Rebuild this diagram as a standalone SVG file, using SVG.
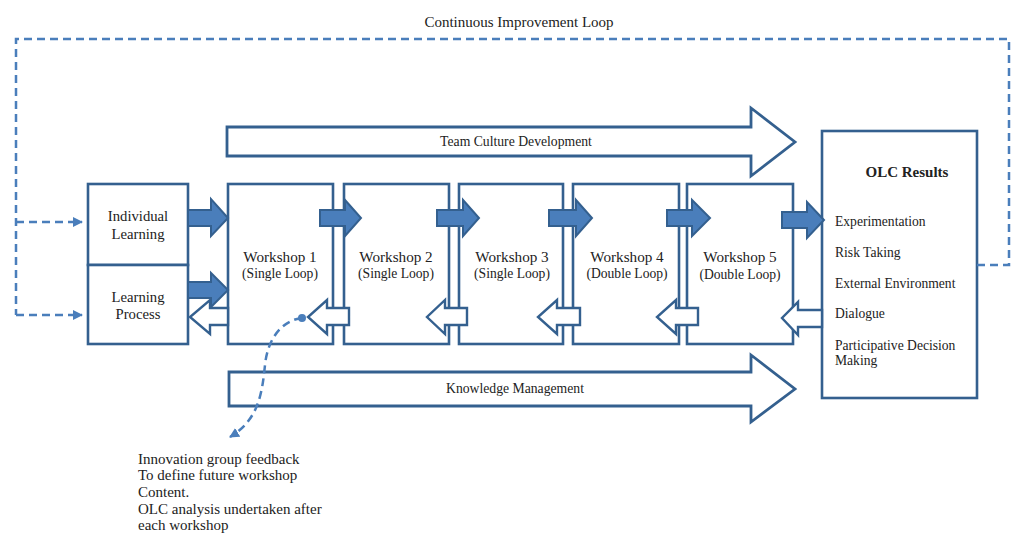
<svg xmlns="http://www.w3.org/2000/svg" width="1012" height="533" viewBox="0 0 1012 533" font-family="'Liberation Serif', 'DejaVu Serif', serif">
<style>
.box{fill:#fff;stroke:#34608f;stroke-width:2.6}
.fa{fill:#4a7ebb;stroke:#34608f;stroke-width:2}
.ha{fill:#fff;stroke:#34608f;stroke-width:2.4}
.big{fill:#fff;stroke:#34608f;stroke-width:2.8}
.dash{fill:none;stroke:#4a7ebb;stroke-width:2.5;stroke-dasharray:8 5}
text{font-family:'Liberation Serif','DejaVu Serif',serif;fill:#222}
.t{font-size:14.7px;text-anchor:middle}
.w{font-size:15.2px;text-anchor:middle}
.s{font-size:13.6px;text-anchor:middle}
.i{font-size:13.6px}
.b{font-size:13.7px;text-anchor:middle}
</style>
<defs>
<marker id="ah" viewBox="0 0 10 10" refX="9" refY="5" markerWidth="4" markerHeight="4" orient="auto">
<path d="M0,0 L10,5 L0,10 z" fill="#4a7ebb"/>
</marker>
</defs>

<text x="519" y="27" style="font-size:15px;text-anchor:middle">Continuous Improvement Loop</text>

<g id="team-culture">
<polygon class="big" points="227,127 751,127 751,108 795,142 751,176 751,156 227,156"/>
<text class="b" x="516" y="146">Team Culture Development</text>
</g>
<g id="knowledge-management">
<polygon class="big" points="229,372 751,372 751,355 795,389 751,422 751,406 229,406"/>
<text class="b" x="515" y="393">Knowledge Management</text>
</g>

<g id="individual-learning">
<rect class="box" x="88" y="184" width="100" height="81"/>
<text class="t" x="138" y="221">Individual</text>
<text class="t" x="138" y="239">Learning</text>
</g>
<g id="learning-process">
<rect class="box" x="88" y="265" width="100" height="79"/>
<text class="t" x="138" y="302">Learning</text>
<text class="t" x="138" y="319">Process</text>
</g>
<g id="workshop1">
<rect class="box" x="228" y="184" width="105" height="160"/>
<text class="w" x="280" y="262">Workshop 1</text>
<text class="s" x="280" y="278">(Single Loop)</text>
</g>
<g id="workshop2">
<rect class="box" x="344" y="184" width="105" height="160"/>
<text class="w" x="396" y="262">Workshop 2</text>
<text class="s" x="396" y="278">(Single Loop)</text>
</g>
<g id="workshop3">
<rect class="box" x="459" y="184" width="104" height="160"/>
<text class="w" x="512" y="262">Workshop 3</text>
<text class="s" x="512" y="278">(Single Loop)</text>
</g>
<g id="workshop4">
<rect class="box" x="573" y="184" width="106" height="160"/>
<text class="w" x="627" y="262">Workshop 4</text>
<text class="s" x="627" y="278">(Double Loop)</text>
</g>
<g id="workshop5">
<rect class="box" x="687" y="184" width="106" height="160"/>
<text class="w" x="740" y="262">Workshop 5</text>
<text class="s" x="740" y="279">(Double Loop)</text>
</g>
<g id="olc-results">
<rect class="box" x="822" y="131" width="155" height="267"/>
<text x="907" y="177" style="font-size:15px;font-weight:bold;text-anchor:middle">OLC Results</text>
<text class="i" x="835" y="226">Experimentation</text>
<text class="i" x="835" y="257">Risk Taking</text>
<text class="i" x="835" y="288">External Environment</text>
<text class="i" x="835" y="318">Dialogue</text>
<text class="i" x="835" y="350">Participative Decision</text>
<text class="i" x="835" y="365">Making</text>
</g>

<g id="connectors">
<polygon class="fa" points="188,210 211,210 211,199 228,218 211,236 211,226 188,226"/>
<polygon class="fa" points="188,282 211,282 211,273 228,290 211,307 211,298 188,298"/>
<polygon class="fa" points="320,210 345,210 345,200 361,218 345,236 345,226 320,226"/>
<polygon class="fa" points="437,210 463,210 463,200 479,218 463,236 463,226 437,226"/>
<polygon class="fa" points="549,210 576,210 576,200 592,218 576,236 576,226 549,226"/>
<polygon class="fa" points="667,210 692,210 692,200 710,218 692,236 692,226 667,226"/>
<polygon class="fa" points="782,212 807,212 807,202 824,220 807,238 807,228 782,228"/>
<polygon class="ha" points="228,308 210,308 210,300 190,317 210,334 210,325 228,325"/>
<polygon class="ha" points="349,308 327,308 327,300 308,317 327,334 327,325 349,325"/>
<polygon class="ha" points="467,308 445,308 445,300 427,317 445,334 445,325 467,325"/>
<polygon class="ha" points="580,308 557,308 557,300 538,317 557,334 557,325 580,325"/>
<polygon class="ha" points="698,308 676,308 676,300 657,317 676,334 676,325 698,325"/>
<polygon class="ha" points="822,310 798,310 798,302 782,318 798,335 798,327 822,327"/>
<path class="dash" d="M977,265 H1009 V39 H16 V315"/>
<path class="dash" d="M16,222 H82" marker-end="url(#ah)"/>
<path class="dash" d="M16,315 H82" marker-end="url(#ah)"/>
<circle cx="302" cy="318" r="4" fill="#4a7ebb"/>
<path class="dash" d="M302,318 C284,320 268,336 265,365 C262,395 258,420 230,437" marker-end="url(#ah)"/>
</g>

<g id="note" style="font-size:15px">
<text x="138" y="464">Innovation group feedback</text>
<text x="138" y="480">To define future workshop</text>
<text x="138" y="497">Content.</text>
<text x="138" y="514">OLC analysis undertaken after</text>
<text x="138" y="530">each workshop</text>
</g>
</svg>
